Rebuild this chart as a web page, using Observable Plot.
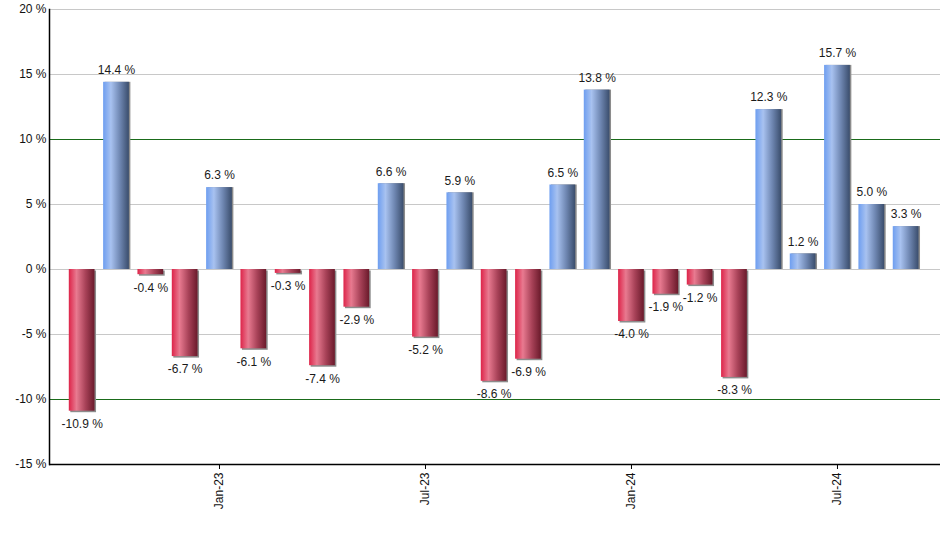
<!DOCTYPE html>
<html>
<head>
<meta charset="utf-8">
<script src="https://cdn.jsdelivr.net/npm/d3@7"></script>
<script src="https://cdn.jsdelivr.net/npm/@observablehq/plot@0.6"></script>
<style>
  html, body { margin: 0; padding: 0; background: #fff; }
</style>
</head>
<body>
<div id="chart"></div>
<script>
const months = ["Sep-22","Oct-22","Nov-22","Dec-22","Jan-23","Feb-23","Mar-23","Apr-23","May-23","Jun-23","Jul-23","Aug-23","Sep-23","Oct-23","Nov-23","Dec-23","Jan-24","Feb-24","Mar-24","Apr-24","May-24","Jun-24","Jul-24","Aug-24","Sep-24"];
const returns = [-10.9, 14.4, -0.4, -6.7, 6.3, -6.1, -0.3, -7.4, -2.9, 6.6, -5.2, 5.9, -8.6, -6.9, 6.5, 13.8, -4.0, -1.9, -1.2, -8.3, 12.3, 1.2, 15.7, 5.0, 3.3];
const xTicks = ["Jan-23","Jul-23","Jan-24","Jul-24"];
const yTicks = [-15, -10, -5, 0, 5, 10, 15, 20];
const grayGrid = [20, 15, 5, 0, -5];
const greenGrid = [10, -10];

const data = months.map((m, i) => ({month: m, value: returns[i]}));
const pos = data.filter(d => d.value >= 0);
const neg = data.filter(d => d.value < 0);
const fmt = d => d.value.toFixed(1) + " %";

const chart = Plot.plot({
  width: 940,
  height: 550,
  marginTop: 9,
  marginBottom: 86,
  marginLeft: 49,
  marginRight: 0,
  style: {fontFamily: "'Liberation Sans', Arial, sans-serif", fontSize: "12px", color: "#111", background: "#fff"},
  x: {type: "band", domain: months, range: [64.5, 922.8], paddingInner: 0.25, paddingOuter: 0.125, round: false},
  y: {domain: [-15, 20]},
  marks: [
    Plot.ruleY(grayGrid, {stroke: "#c8c8c8", strokeWidth: 1}),
    Plot.ruleY(greenGrid, {stroke: "#1a6b1a", strokeWidth: 1.2}),
    Plot.barY(pos, {x: "month", y: "value", fill: "#8c8c8c", dx: 1.5}),
    Plot.barY(neg, {x: "month", y: "value", fill: "#8c8c8c", dx: 1.5, dy: 1.5}),
    Plot.barY(pos, {x: "month", y: "value", fill: "url(#gradBlue)"}),
    Plot.barY(neg, {x: "month", y: "value", fill: "url(#gradRed)"}),
    Plot.text(pos, {x: "month", y: "value", text: fmt, dy: -12, fill: "#1a1a1a", fontSize: 12}),
    Plot.text(neg, {x: "month", y: "value", text: fmt, dy: 13, fill: "#1a1a1a", fontSize: 12}),
    Plot.ruleY([-15], {stroke: "#000", strokeWidth: 1.5}),
    Plot.frame({anchor: "left", stroke: "#000", strokeWidth: 1.5}),
    Plot.axisY({ticks: yTicks, tickFormat: d => d + " %", tickSize: 0, tickPadding: 3, fontSize: 12, label: null, fill: "#111"}),
    Plot.axisX({ticks: xTicks, tickRotate: -90, tickSize: 5, tickPadding: 3, fontSize: 12, label: null, stroke: "#000", fill: "#111"})
  ]
});

const svg = d3.select(chart);
const defs = svg.insert("defs", ":first-child");
function grad(id, stops) {
  const g = defs.append("linearGradient").attr("id", id)
    .attr("x1", "0").attr("y1", "0").attr("x2", "1").attr("y2", "0");
  stops.forEach(([o, c]) => g.append("stop").attr("offset", o).attr("stop-color", c));
}
grad("gradBlue", [["0%", "#6e9ef0"], ["30%", "#a8c2f0"], ["65%", "#6f87b2"], ["100%", "#3a4d6c"]]);
grad("gradRed", [["0%", "#dd2449"], ["30%", "#e87a90"], ["65%", "#a84258"], ["100%", "#6a1a2b"]]);

document.getElementById("chart").appendChild(chart);
</script>
</body>
</html>
